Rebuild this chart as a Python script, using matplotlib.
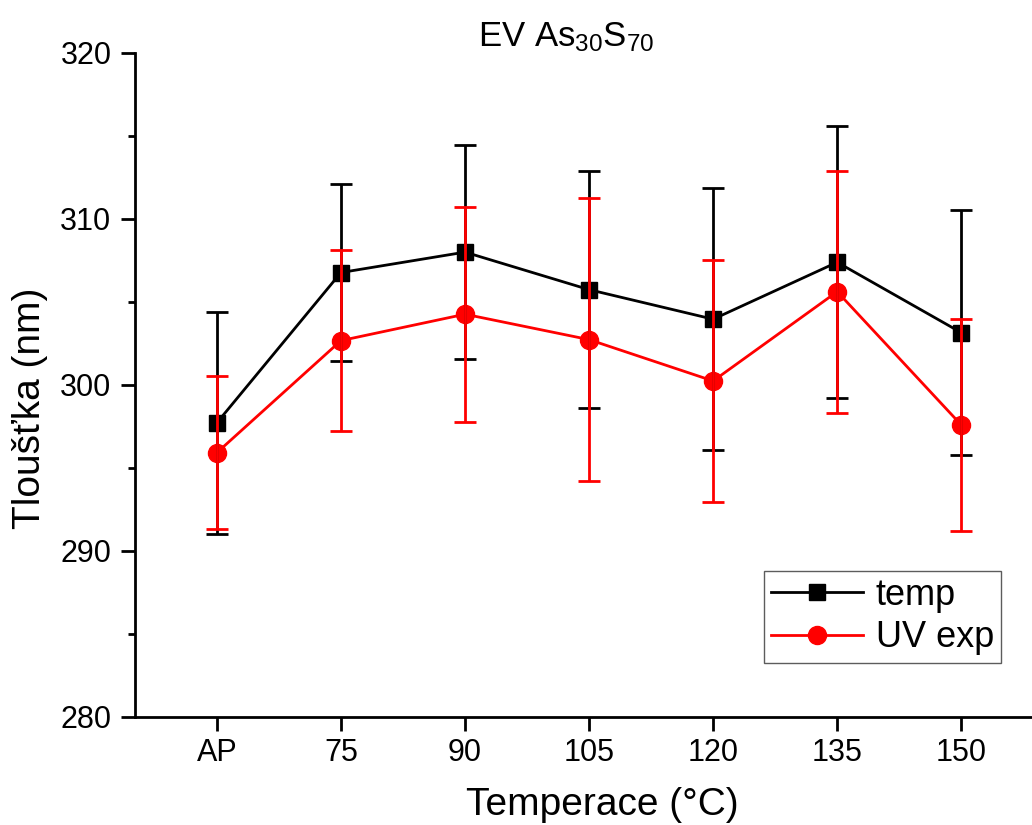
import matplotlib
matplotlib.use("Agg")
import matplotlib.pyplot as plt
import numpy as np

# ── Data ─────────────────────────────────────────────
categories = ["AP", "75", "90", "105", "120", "135", "150"]

temp_mean = [297.7, 306.75, 307.98, 305.72, 303.94, 307.37, 303.13]
temp_err  = [6.7, 5.33, 6.43, 7.14, 7.9, 8.2, 7.37]

uv_mean = [295.9, 302.65, 304.24, 302.71, 300.22, 305.6, 297.57]
uv_err  = [4.6, 5.45, 6.47, 8.5, 7.3, 7.28, 6.4]

plt.rcParams["font.family"] = ["Liberation Sans", "DejaVu Sans"]
plt.rcParams["mathtext.default"] = "regular"

fig = plt.figure(figsize=(10.32, 8.25), dpi=100)
ax = fig.add_axes([0.1308, 0.1313, 0.88, 0.805])

x = np.arange(len(categories))

# ── Lines + markers ──────────────────────────────────
ax.plot(x, temp_mean, color="black", lw=2, marker="s", markersize=11,
        label="temp", zorder=2)
ax.plot(x, uv_mean, color="red", lw=2, marker="o", markersize=13,
        label="UV exp", zorder=3)

# ── Error bars on top ────────────────────────────────
ax.errorbar(x, temp_mean, yerr=temp_err, fmt="none", ecolor="black",
            elinewidth=2, capsize=8, capthick=2, zorder=4)
ax.errorbar(x, uv_mean, yerr=uv_err, fmt="none", ecolor="red",
            elinewidth=2, capsize=8, capthick=2, zorder=5)

# ── Axes styling ─────────────────────────────────────
ax.set_xlim(-0.66, 6.66)
ax.set_ylim(280, 320)
ax.set_xticks(x)
ax.set_xticklabels(categories)
ax.set_yticks(np.arange(280, 321, 10))
ax.set_yticks(np.arange(285, 320, 10), minor=True)

for side in ["top", "right"]:
    ax.spines[side].set_visible(False)
for side in ["left", "bottom"]:
    ax.spines[side].set_linewidth(2)

ax.tick_params(axis="both", which="major", direction="out", length=10,
               width=2, labelsize=22)
ax.tick_params(axis="y", which="major", pad=7)
ax.tick_params(axis="x", which="major", pad=5)
ax.tick_params(axis="y", which="minor", direction="out", length=5, width=2)

# ── Texts ────────────────────────────────────────────
fig.text(0.549, 0.9434, r"EV As$_{30}$S$_{70}$", fontsize=25,
         ha="center", va="baseline")
fig.text(0.584, 0.024, "Temperace (°C)", fontsize=28, ha="center", va="center")
fig.text(0.029, 0.505, "Tloušťka (nm)", fontsize=28, rotation=90,
         ha="center", va="center")

leg = ax.legend(loc="upper left", bbox_to_anchor=(0.740, 0.308),
                bbox_transform=fig.transFigure, fontsize=26, frameon=True,
                fancybox=False, borderaxespad=0, borderpad=0.2,
                handlelength=2.55, handletextpad=0.35, labelspacing=0.2)
leg.get_frame().set_edgecolor("#333333")
leg.get_frame().set_linewidth(1.0)

plt.savefig("out.png", dpi=100)
plt.close()
